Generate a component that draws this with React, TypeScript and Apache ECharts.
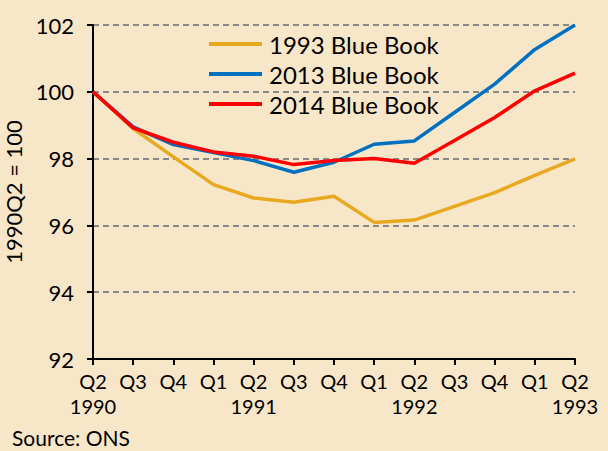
import React, { useEffect, useRef } from "react";
import * as echarts from "echarts";

const categories = ["Q2\n1990", "Q3", "Q4", "Q1", "Q2\n1991", "Q3", "Q4", "Q1", "Q2\n1992", "Q3", "Q4", "Q1", "Q2\n1993"];
const bb1993 = [100, 98.9, 98.05, 97.22, 96.82, 96.69, 96.87, 96.09, 96.16, 96.57, 96.98, 97.5, 97.99];
const bb2013 = [100, 98.95, 98.42, 98.18, 97.94, 97.59, 97.89, 98.43, 98.53, 99.38, 100.23, 101.27, 102.0];
const bb2014 = [100, 98.92, 98.49, 98.2, 98.07, 97.82, 97.94, 98.0, 97.86, 98.54, 99.23, 100.03, 100.56];
const seriesNames = ["1993 Blue Book", "2013 Blue Book", "2014 Blue Book"];
const colors = ["#E8A820", "#0070C0", "#FF0000"];

const FONT = "Lato";

export default function App() {
  const ref = useRef<HTMLDivElement>(null);
  useEffect(() => {
    document.body.style.margin = "0";
    const chart = echarts.init(ref.current!, null, { renderer: "svg" });
    const data = [bb1993, bb2013, bb2014];
    chart.setOption({
      animation: false,
      backgroundColor: "#F8E6C9",
      textStyle: { fontFamily: FONT },
      grid: { left: 93, right: 33, top: 25, bottom: 92, containLabel: false, outerBoundsMode: "none" },
      legend: {
        orient: "vertical",
        left: 204,
        top: 27,
        icon: "rect",
        itemWidth: 53,
        itemHeight: 4,
        itemGap: 6,
        data: seriesNames,
        textStyle: { fontFamily: FONT, fontSize: 24, color: "#000", padding: [0, 0, 0, 2] },
      },
      xAxis: {
        type: "category",
        data: categories,
        boundaryGap: false,
        axisLine: { lineStyle: { color: "#000", width: 2 } },
        axisTick: { show: true, length: 6, interval: 0, lineStyle: { color: "#000", width: 2 } },
        axisLabel: { interval: 0, color: "#000", fontSize: 20, lineHeight: 25, margin: 9, fontFamily: FONT },
        splitLine: { show: false },
      },
      yAxis: {
        type: "value",
        min: 92,
        max: 102,
        interval: 2,
        name: "1990Q2 = 100",
        nameLocation: "middle",
        nameGap: 66,
        nameRotate: 90,
        nameTextStyle: { fontSize: 22, color: "#000", fontFamily: FONT },
        axisLine: { show: true, lineStyle: { color: "#000", width: 2 } },
        axisTick: { show: true, length: 6, lineStyle: { color: "#000", width: 2 } },
        axisLabel: { color: "#000", fontSize: 22, margin: 19, fontFamily: FONT },
        splitLine: { show: true, lineStyle: { color: "#888", type: [6, 4], width: 2 } },
      },
      series: seriesNames.map((n, i) => ({
        name: n,
        type: "line",
        data: data[i],
        symbol: "none",
        z: 3 + i,
        lineStyle: { color: colors[i], width: 3.5 },
        itemStyle: { color: colors[i] },
      })),
      graphic: [
        {
          type: "text",
          left: 12,
          top: 427,
          style: { text: "Source: ONS", fontSize: 21, fill: "#000", fontFamily: FONT },
        },
      ],
    });
    return () => chart.dispose();
  }, []);
  return <div ref={ref} style={{ width: 608, height: 451 }} />;
}
